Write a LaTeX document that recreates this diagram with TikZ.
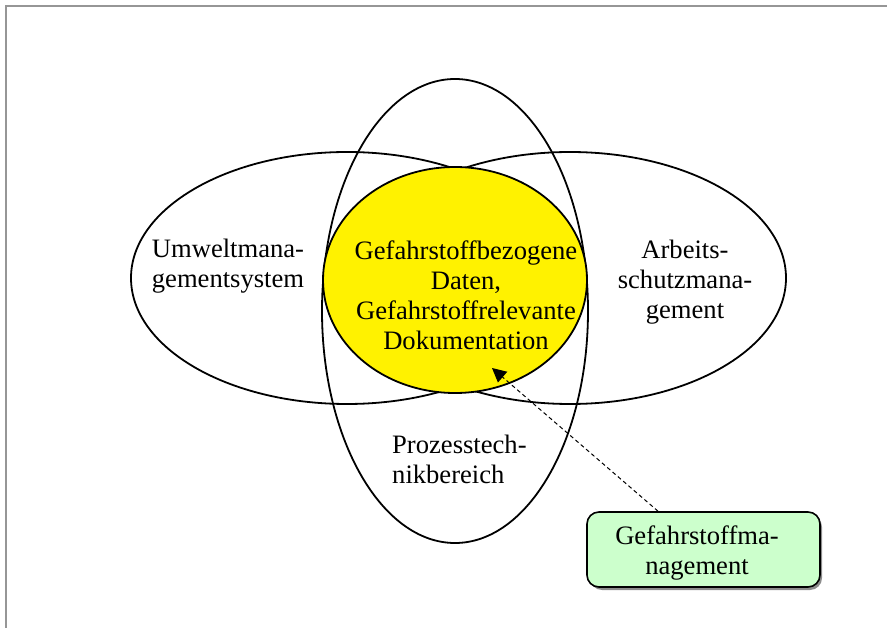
\documentclass[tikz,border=0pt]{standalone}
\usepackage{fontspec}
\setmainfont{Liberation Serif}
\usetikzlibrary{shapes.geometric,arrows.meta}
\definecolor{boxgreen}{RGB}{204,255,204}
\definecolor{framegray}{RGB}{150,150,150}
\begin{document}
\begin{tikzpicture}[x=1pt,y=-1pt,
  setshape/.style={draw=black,line width=1.8pt,ellipse,inner sep=0pt,outer sep=0pt},
  lbl/.style={font=\fontsize{26.6}{30}\selectfont,inner sep=0pt,align=center},
  greenbox/.style={draw=black,line width=1.6pt,rounded corners=12pt,fill=boxgreen,
    minimum width=233pt,minimum height=75pt,inner sep=0pt},
  pointer/.style={dash pattern=on 4pt off 3pt,line width=1pt,
    -{Triangle[length=14pt,width=14pt]}}]
\useasboundingbox (0,0) rectangle (887,628);
% page frame
\draw[framegray,line width=1.2pt] (6,628) -- (6,6) -- (887,6);

% the three management areas
\node[setshape,minimum width=432pt,minimum height=252pt] (umwelt) at (347,278) {};
\node[setshape,minimum width=432pt,minimum height=252pt] (arbeit) at (570,278) {};
\node[setshape,minimum width=266pt,minimum height=464pt] (prozess) at (455,311) {};
% shared core
\node[setshape,fill=yellow,minimum width=264pt,minimum height=226pt] (daten) at (455,280) {};

\node[lbl] (t-umwelt) at (228,266) {Umweltmana-\\gementsystem};
\node[lbl] (t-arbeit) at (685,282) {Arbeits-\\schutzmana-\\gement};
\node[lbl] (t-daten) at (466,295) {Gefahrstoffbezogene\\Daten,\\Gefahrstoffrelevante\\Dokumentation};
\node[lbl,align=left,anchor=west] (t-prozess) at (392,459) {Prozesstech-\\nikbereich};

% hazardous substance management box
\fill[black!45,rounded corners=12pt] (590,515) rectangle (822,590);
\node[greenbox] (gm) at (703.5,549.5) {};
\node[lbl] (t-gm) at (697,553) {Gefahrstoffma-\\nagement};

\coordinate (tip) at (492,368);
\draw[pointer] ([xshift=-45.5pt]gm.north) -- (tip);
\end{tikzpicture}
\end{document}
